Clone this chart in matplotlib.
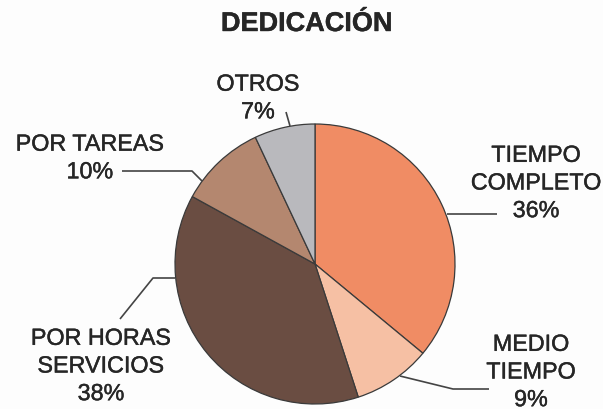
import matplotlib
matplotlib.use("Agg")
import matplotlib.pyplot as plt
import matplotlib.patheffects as pe

plt.rcParams['font.family'] = ['Liberation Sans', 'DejaVu Sans']

# ---- data ----
categories = ["TIEMPO\nCOMPLETO", "MEDIO\nTIEMPO", "POR HORAS\nSERVICIOS", "POR TAREAS", "OTROS"]
values = [36, 9, 38, 10, 7]
colors = ["#F08C64", "#F6C0A4", "#6A4D42", "#B4876F", "#B9B9BD"]
title = "DEDICACIÓN"

W, H = 603, 410
fig = plt.figure(figsize=(W / 100, H / 100), dpi=100, facecolor="#FDFDFD")
ax = fig.add_axes([0, 0, 1, 1])
ax.set_facecolor("#FDFDFD")

def Y(y):
    return H - y

ax.pie(values, colors=colors, startangle=90, counterclock=False,
       center=(315, Y(265)), radius=140,
       wedgeprops=dict(edgecolor="#3a3a3a", linewidth=0.9))
ax.set_xlim(0, W)
ax.set_ylim(0, H)
ax.set_aspect('equal')
ax.axis('off')

txt_color = "#262626"
fs = 16.8
stroke = [pe.withStroke(linewidth=0.3, foreground=txt_color)]

# label layout: (text centre x, text centre y, leader polyline in pixel coords)
layout = [
    (536, 184, [(447, 215), (497, 215)]),
    (531, 373, [(400, 377), (453, 390), (489, 390)]),
    (101, 367, [(175, 279), (153, 279), (120, 320)]),
    (90, 159, [(122, 172), (192, 172), (202, 182)]),
    (258, 99, [(286, 113), (290, 127)]),
]

for cat, val, (tx, ty, leader) in zip(categories, values, layout):
    label = f"{cat}\n{val}%"
    ax.text(tx, Y(ty), label, ha='center', va='center', fontsize=fs,
            color=txt_color, linespacing=1.26, multialignment='center',
            path_effects=stroke)
    xs = [p[0] for p in leader]
    ys = [Y(p[1]) for p in leader]
    ax.plot(xs, ys, color="#444444", lw=1.2, solid_capstyle='butt')

ax.text(307, Y(25), title, ha='center', va='center', fontsize=19.5,
        fontweight='bold', color=txt_color, path_effects=stroke)

fig.savefig("out.png", dpi=100, facecolor=fig.get_facecolor())
